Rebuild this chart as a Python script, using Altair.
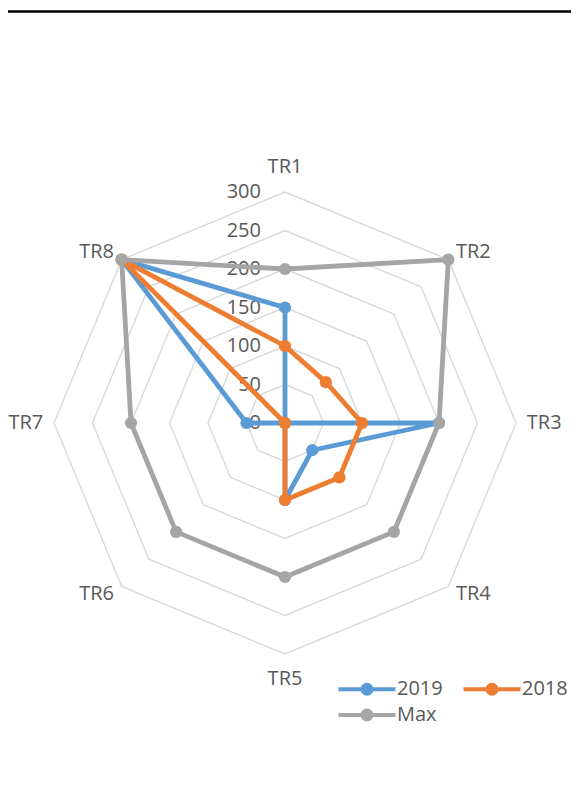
import altair as alt
import pandas as pd
import numpy as np

categories = ["TR1", "TR2", "TR3", "TR4", "TR5", "TR6", "TR7", "TR8"]
s2019 = [150, 0, 200, 50, 100, 0, 50, 300]
s2018 = [100, 75, 100, 100, 100, 0, 0, 300]
smax = [200, 300, 200, 200, 200, 200, 200, 300]
series_names = ["2019", "2018", "Max"]
series_values = [s2019, s2018, smax]
colors = ["#5B9BD5", "#ED7D31", "#A5A5A5"]
ticks = [0, 50, 100, 150, 200, 250, 300]
grid_levels = [50, 100, 150, 200, 250, 300]

W, H = 563, 789
CX, CY = 277, 415
PX = 231 / 300.0
xdom = [-CX / PX, (W - CX) / PX]
ydom = [-(H - CY) / PX, CY / PX]
FONT = "Open Sans"
TXT = "#595959"

rows = []
for s, vals in zip(series_names, series_values):
    for i in range(len(categories) + 1):
        k = i % len(categories)
        rows.append({"series": s, "cat": categories[k], "idx": k, "order": i, "value": vals[k]})
df = pd.DataFrame(rows)

grows = []
for lv in grid_levels:
    for i in range(len(categories) + 1):
        grows.append({"level": lv, "idx": i % len(categories), "order": i})
gdf = pd.DataFrame(grows)

cdf = pd.DataFrame({"cat": categories, "idx": list(range(len(categories)))})
tdf = pd.DataFrame({"tick": ticks})

xs = alt.Scale(domain=xdom, nice=False, zero=False)
ys = alt.Scale(domain=ydom, nice=False, zero=False)
X = lambda f: alt.X(f, type="quantitative", scale=xs, axis=None)
Y = lambda f: alt.Y(f, type="quantitative", scale=ys, axis=None)

color_scale = alt.Scale(domain=series_names, range=colors)
leg_path = ("M-2.85,0L2.85,0 "
            "M0.45,0A0.45,0.45 0 1,1 -0.45,0A0.45,0.45 0 1,1 0.45,0 "
            "M0.15,0A0.15,0.15 0 1,1 -0.15,0A0.15,0.15 0 1,1 0.15,0")
legend = alt.Legend(
    title=None, orient="none", legendX=347, legendY=669, columns=2, direction="horizontal",
    symbolType=leg_path, symbolSize=400, symbolStrokeWidth=4,
    labelOffset=18, labelFont=FONT, labelFontSize=20, labelColor=TXT,
    columnPadding=12, rowPadding=0, padding=0,
)

angle_calc = "datum.idx * PI / 4"

grid = alt.Chart(gdf).transform_calculate(
    a=angle_calc,
    x="datum.level * sin(datum.a)",
    y="datum.level * cos(datum.a)",
).mark_line(color="#D9D9D9", strokeWidth=1.4).encode(
    x=X("x"), y=Y("y"), detail="level:N", order="order:Q"
)

tick_text = alt.Chart(tdf).transform_calculate(
    x="0", y="datum.tick"
).mark_text(align="right", baseline="middle", dx=-24, font=FONT, fontSize=20, color=TXT).encode(
    x=X("x"), y=Y("y"), text="tick:Q"
)

cat_base = alt.Chart(cdf).transform_calculate(
    a=angle_calc,
    s="sin(datum.a)",
    lr="abs(sin(datum.a)) < 0.01 ? 332.5 : 314",
    x="datum.lr * sin(datum.a)",
    y="datum.lr * cos(datum.a)",
)
cat_layers = []
for cond, al in [("datum.s > 0.01", "left"), ("datum.s < -0.01", "right"), ("abs(datum.s) <= 0.01", "center")]:
    cat_layers.append(
        cat_base.transform_filter(cond).mark_text(
            align=al, baseline="middle", font=FONT, fontSize=20, color=TXT
        ).encode(x=X("x"), y=Y("y"), text="cat:N")
    )

series_layers = []
for s, c in zip(series_names, colors):
    base = alt.Chart(df).transform_filter(alt.datum.series == s).transform_calculate(
        a=angle_calc,
        x="datum.value * sin(datum.a)",
        y="datum.value * cos(datum.a)",
    )
    line = base.mark_line(strokeWidth=4.8, strokeJoin="round").encode(
        x=X("x"), y=Y("y"), order="order:Q",
        color=alt.Color("series:N", scale=color_scale, legend=legend),
    )
    pts = base.transform_filter("datum.order < 8").mark_point(
        filled=True, size=150, opacity=1, color=c
    ).encode(x=X("x"), y=Y("y"))
    series_layers += [line, pts]

top_rule = alt.Chart(pd.DataFrame({"v": [0]})).mark_rule(color="black", strokeWidth=2.5).encode(
    x=alt.value(-8), x2=alt.value(W + 8), y=alt.value(3.5)
)

chart = alt.layer(grid, tick_text, *cat_layers, *series_layers, top_rule).properties(
    width=W, height=H, autosize=alt.AutoSizeParams(type="none"), padding=0
).configure_view(stroke=None)

chart.save("out.html", embed_options={"renderer": "svg", "actions": False})
